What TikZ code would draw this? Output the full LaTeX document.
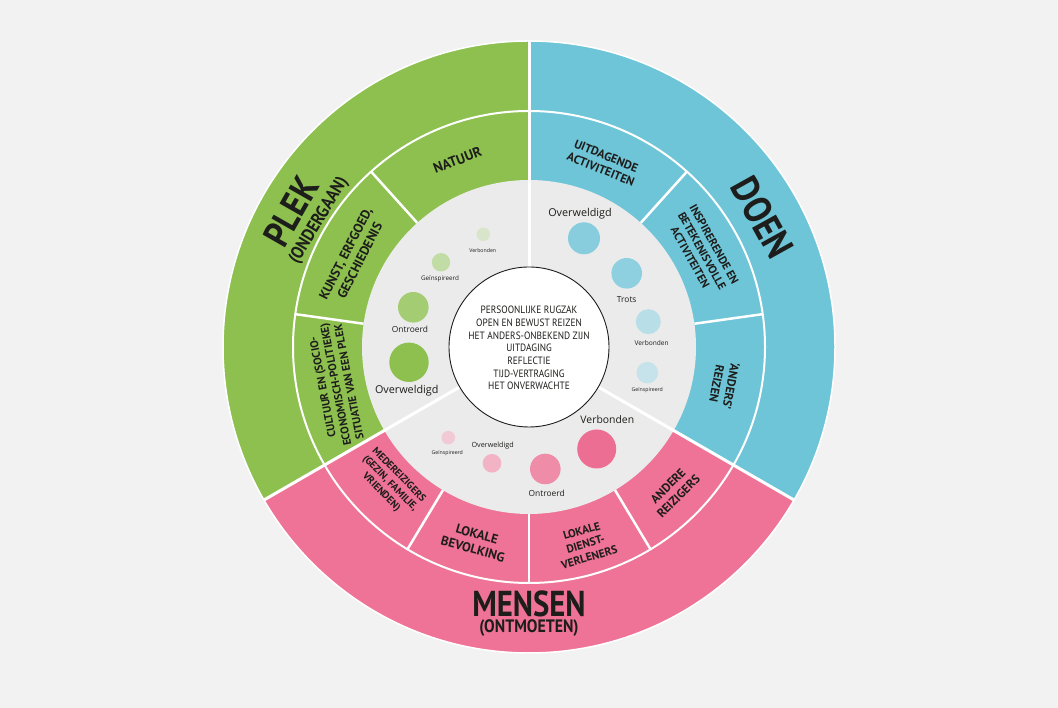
\documentclass[tikz,border=0pt]{standalone}
\usepackage{fontspec}
\setmainfont{PT Sans}
\newfontfamily\bubfont{Open Sans}
\newfontfamily\condfont[FakeStretch=0.88]{PT Sans}
\definecolor{bg}{HTML}{F2F2F2}
\definecolor{cgreen}{HTML}{8DC04F}
\definecolor{cblue}{HTML}{6FC5D8}
\definecolor{cpink}{HTML}{EE7396}
\definecolor{cgray}{HTML}{EBEBEB}
\definecolor{txt}{HTML}{1D1D1B}
\definecolor{g1}{HTML}{8DC04F}
\definecolor{g2}{HTML}{A4CC72}
\definecolor{g3}{HTML}{C2DCA5}
\definecolor{g4}{HTML}{D8E5CB}
\definecolor{b1}{HTML}{87CDDD}
\definecolor{b2}{HTML}{8FD0E0}
\definecolor{b3}{HTML}{B8DFE8}
\definecolor{b4}{HTML}{C6E2EA}
\definecolor{p1}{HTML}{EC6F93}
\definecolor{p2}{HTML}{EF8CA8}
\definecolor{p3}{HTML}{F2B3C4}
\definecolor{p4}{HTML}{F1CAD5}
\tikzset{
  ringlab/.style={font=\fontsize{#1}{\dimexpr #1pt*6/5\relax}\selectfont\bfseries, text=txt, align=center, inner sep=0pt},
  bigtitle/.style={font=\condfont\fontsize{#1}{#1}\selectfont\bfseries, text=txt, inner sep=0pt},
  subtitle/.style={font=\condfont\fontsize{18}{18}\selectfont\bfseries, text=txt, inner sep=0pt},
  bub/.style={circle, inner sep=0pt, draw=none, minimum size=#1},
  blab/.style={font=\bubfont\fontsize{#1}{#1}\selectfont, text=txt, inner sep=0pt},
  divider/.style={white, line width=2.5pt},
}
\begin{document}
\begin{tikzpicture}[x=1pt,y=1pt]
\fill[bg] (0,0) rectangle (1058,708);
\useasboundingbox (0,0) rectangle (1058,708);
\begin{scope}[shift={(529,361)}]
  % outer sectors
  \fill[cgreen] (0,0) -- (90:306) arc[start angle=90, end angle=210, radius=306] -- cycle;
  \fill[cpink] (0,0) -- (210:306) arc[start angle=210, end angle=330, radius=306] -- cycle;
  \fill[cblue] (0,0) -- (330:306) arc[start angle=330, end angle=450, radius=306] -- cycle;
  \draw[white, line width=1.5pt] (0,0) circle (306);
  \draw[white, line width=2pt] (0,0) circle (236);
  \fill[cgray] (0,0) circle (167);
  % middle ring dividers
  \foreach \a in {132,172,48,8,239,270,301}
    \draw[divider] (\a:167) -- (\a:236.5);
  % main dividers
  \foreach \a in {90,210,330}
    \draw[divider, line width=3pt] (\a:80) -- (\a:306);
  % center circle
  \filldraw[fill=white, draw=txt, line width=0.9pt] (0,0) circle (80);
  \node[font=\condfont\fontsize{10.6}{12.7}\selectfont, text=txt, align=center, inner sep=0pt] (core) at (0,-1)
    {PERSOONLIJKE RUGZAK\\OPEN EN BEWUST REIZEN\\HET ANDERS-ONBEKEND ZIJN\\UITDAGING\\REFLECTIE\\TIJD-VERTRAGING\\HET ONVERWACHTE};

  % big titles
  \node[bigtitle=37, rotate=60.3] (plek) at (150.3:274) {PLEK};
  \node[subtitle, rotate=59] (onderg) at (149:245) {(ONDERGAAN)};
  \node[bigtitle=39, rotate=-61] (doen) at (29:267) {DOEN};
  \node[bigtitle=36] (mensen) at (0,-257) {\scalebox{0.97}[1]{MENSEN}};
  \node[subtitle] (ontm) at (0,-281) {(ONTMOETEN)};

  % middle ring labels
  \node[ringlab=14, rotate=21] (natuur) at (111:200) {NATUUR};
  \node[ringlab=13.2, rotate=63] (kunst) at (153:198) {KUNST, ERFGOED,\\GESCHIEDENIS};
  \node[ringlab=11.2, rotate=101] (cultuur) at (191:197) {CULTUUR EN (SOCIO-\\ECONOMISCH-POLITIEKE)\\SITUATIE VAN EEN PLEK};
  \node[ringlab=12, rotate=-22] (uitdag) at (68:199) {UITDAGENDE\\ACTIVITEITEN};
  \node[ringlab=11.4, rotate=-61] (inspir) at (29:198) {INSPIRERENDE EN\\BETEKENISVOLLE\\ACTIVITEITEN};
  \node[ringlab=12, rotate=-101] (anders) at (-11:199) {‘ANDERS’\\REIZEN};
  \node[ringlab=10.2, rotate=-45.5] (mede) at (224.5:195) {MEDEREIZIGERS\\(GEZIN, FAMILIE,\\VRIENDEN)};
  \node[ringlab=13, rotate=-15.5] (lokbev) at (254.5:202) {LOKALE\\BEVOLKING};
  \node[ringlab=11.4, rotate=16] (lokdien) at (286:205) {LOKALE\\DIENST-\\VERLENERS};
  \node[ringlab=12.2, rotate=45] (andere) at (315:204) {ANDERE\\REIZIGERS};

  % green bubbles
  \node[bub=13.4, fill=g4] (gb4) at (-45.7,112.7) {};
  \node[blab=5.2] (gl4) at (-46.3,96.3) {Verbonden};
  \node[bub=18.4, fill=g3] (gb3) at (-88,84.7) {};
  \node[blab=6.3] (gl3) at (-89,68) {Geïnspireerd};
  \node[bub=30.6, fill=g2] (gb2) at (-115.7,39.7) {};
  \node[blab=8.4] (gl2) at (-119,17.7) {Ontroerd};
  \node[bub=39.4, fill=g1] (gb1) at (-120,-15.3) {};
  \node[blab=10.8] (gl1) at (-122.3,-43.7) {Overweldigd};

  % blue bubbles
  \node[blab=10.8] (bl1) at (51,133.7) {Overweldigd};
  \node[bub=32, fill=b1] (bb1) at (55,108.7) {};
  \node[bub=30.6, fill=b2] (bb2) at (97.7,73.7) {};
  \node[blab=8.4] (bl2) at (97.7,47.7) {Trots};
  \node[bub=25, fill=b3] (bb3) at (119.3,25.3) {};
  \node[blab=6.6] (bl3) at (122.7,3.7) {Verbonden};
  \node[bub=21.6, fill=b4] (bb4) at (118.3,-25.7) {};
  \node[blab=5.2] (bl4) at (118.3,-43) {Geïnspireerd};

  % pink bubbles
  \node[blab=10.4] (pl1) at (78.3,-73) {Verbonden};
  \node[bub=39, fill=p1] (pb1) at (67.7,-102) {};
  \node[bub=30.6, fill=p2] (pb2) at (16.3,-122) {};
  \node[blab=8.4] (pl2) at (17.7,-146.3) {Ontroerd};
  \node[blab=7.2] (pl3) at (-36.3,-99) {Overweldigd};
  \node[bub=18.6, fill=p3] (pb3) at (-37,-116.3) {};
  \node[bub=13.6, fill=p4] (pb4) at (-80.7,-90.7) {};
  \node[blab=5.2] (pl4) at (-81.7,-106.3) {Geïnspireerd};
\end{scope}
\end{tikzpicture}
\end{document}
